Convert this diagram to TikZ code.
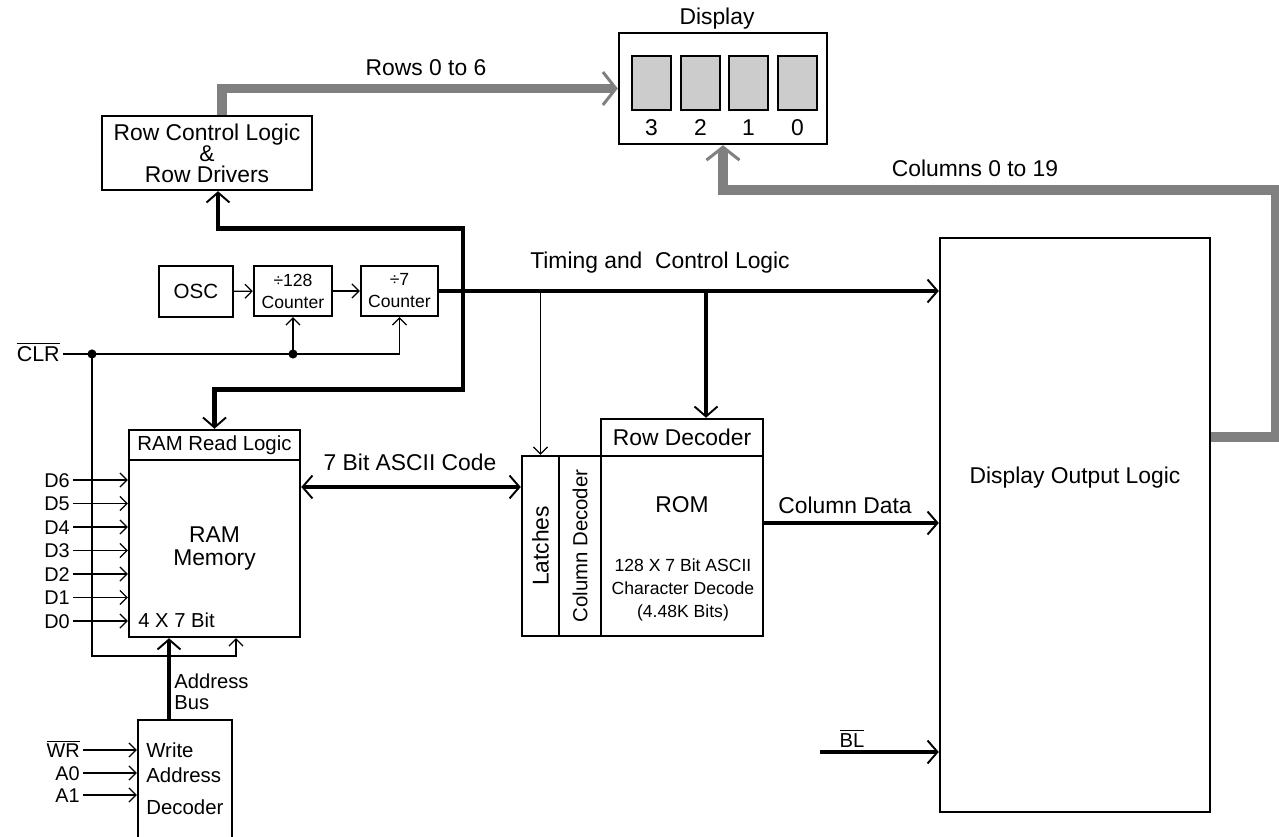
\documentclass[tikz,border=0pt]{standalone}
\usepackage{fontspec}
\setmainfont{Liberation Sans}
\usetikzlibrary{arrows.meta,positioning,calc}
\definecolor{busgray}{HTML}{808080}
\definecolor{segfill}{HTML}{CCCCCC}
\tikzset{
  blk/.style={draw=black, line width=1.4pt, inner sep=0pt, align=center, font=\fontsize{13}{15}\selectfont},
  seg/.style={draw=black, line width=0.6pt, fill=segfill, minimum width=0.78cm, minimum height=1.08cm},
  txt/.style={inner sep=0pt, align=center, font=\fontsize{13}{15}\selectfont},
  txtsm/.style={inner sep=0pt, align=left, font=\fontsize{11.5}{14}\selectfont},
  pinlbl/.style={inner ysep=0pt, inner xsep=1.7pt, text height=8pt, text depth=0pt, font=\fontsize{11.3}{13}\selectfont},
  sig/.style={line width=0.7pt, -{Straight Barb[length=1.4mm,width=2.8mm]}},
  bus/.style={line width=2.8pt, >={Straight Barb[length=2mm,width=4.6mm,line width=1.1pt 0 1]}},
  gbus/.style={line width=5.6pt, draw=busgray, -{Straight Barb[length=2.6mm,width=6.6mm,line width=1.7pt 0 1]}}
}
\begin{document}
\begin{tikzpicture}[x=0.02cm, y=-0.02cm]
  \useasboundingbox (0,0) rectangle (1279,837);
  % blocks
  \node[blk, minimum width=4.2cm, minimum height=1.48cm, font=\fontsize{13}{12}\selectfont] (rowctl) at (207,153) {Row Control Logic\\\&\\Row Drivers};
  \node[blk, minimum width=4.16cm, minimum height=2.22cm] (display) at (723,88.5) {};
  \node[txt] (displbl) at (717,19) {Display};
  \foreach \n/\x in {3/651.5,2/700.5,1/748.5,0/797.5}{
    \node[seg] (seg\n) at (\x,83) {};
    \node[txt] (dig\n) at (\x,128) {\n};
  }
  \node[blk, minimum width=1.48cm, minimum height=1.02cm, font=\fontsize{11.7}{14}\selectfont] (osc) at (196,291.5) {OSC};
  \node[blk, minimum width=1.56cm, minimum height=1cm, font=\fontsize{10}{12.5}\selectfont] (cnt128) at (293,291) {÷128\\Counter};
  \node[blk, minimum width=1.54cm, minimum height=1cm, font=\fontsize{10}{12.5}\selectfont] (cnt7) at (399.5,291) {÷7\\Counter};
  \node[blk, minimum width=3.42cm, minimum height=0.6cm, font=\fontsize{11.6}{14}\selectfont] (ramread) at (214.5,445) {RAM Read Logic};
  \node[blk, minimum width=3.42cm, minimum height=3.54cm, font=\fontsize{13}{13.6}\selectfont] (ram) at (214.5,548.5) {RAM\\Memory};
  \node[txtsm, anchor=west] (ramsize) at (138,620) {4 X 7 Bit};
  \node[blk, minimum width=1.88cm, minimum height=3cm] (wad) at (185,795) {};
  \node[txtsm, anchor=north west, font=\fontsize{11.6}{14.2}\selectfont] (wadtxt) at (146,742) {Write\\Address\\[4.5pt]Decoder};
  \node[blk, minimum width=0.74cm, minimum height=3.6cm] (latches) at (540.5,546) {};
  \node[blk, minimum width=0.84cm, minimum height=3.6cm] (coldec) at (580,546) {};
  \node[blk, minimum width=3.24cm, minimum height=0.74cm] (rowdec) at (682,437.5) {Row Decoder};
  \node[blk, minimum width=3.24cm, minimum height=3.6cm] (rom) at (682,546) {};
  \node[txt, rotate=90] (latchtxt) at (latches.center) {Latches};
  \node[txt, rotate=90, font=\fontsize{11.6}{14}\selectfont] (coldectxt) at (coldec.center) {Column Decoder};
  \node[txt] (romtxt) at (682,505) {ROM};
  \node[txt, font=\fontsize{10}{13}\selectfont] (romsize) at (683,590) {128 X 7 Bit ASCII\\Character Decode\\(4.48K Bits)};
  \node[blk, minimum width=5.4cm, minimum height=11.48cm] (dol) at (1075,525) {};
  \node[txt] (doltxt) at (1075,478) {Display Output Logic};
  % labels
  \node[txt] (rowslbl) at (426,68) {Rows 0 to 6};
  \node[txt] (colslbl) at (975,168) {Columns 0 to 19};
  \node[txt] (timlbl) at (660,263) {Timing and\ \ Control Logic};
  \node[txt] (asclbl) at (410,462) {7 Bit ASCII Code};
  \node[txt] (cdlbl) at (845,505) {Column Data};
  \node[txtsm, anchor=west, font=\fontsize{11.5}{12}\selectfont] (abuslbl) at (174,692) {Address\\Bus};
  \node[pinlbl, anchor=east, font=\fontsize{12.2}{14}\selectfont] (clr) at (63,354) {$\overline{\mbox{CLR}}$};
  \node[pinlbl, font=\fontsize{11.5}{14}\selectfont] (bl) at (852,740) {$\overline{\mbox{BL}}$};
  % display buses
  \draw[gbus] ($(rowctl.north)+(15,0)$) |- (display.west);
  \draw[gbus] ($(dol.east)+(0,-88)$) -- ++(65,0) -- ++(0,-247) -| (display.south);
  % timing and control
  \draw[bus,<->] ($(rowctl.south)+(11,0)$) -- ++(0,37) -- ++(245,0) -- ++(0,161) -| (ramread.north);
  \draw[bus,->] (cnt7.east) -- (cnt7.east -| dol.west);
  \coordinate (tapA) at (706,291);
  \draw[bus,->] (tapA) -- (tapA |- rowdec.north);
  \draw[sig] (latches.north |- cnt7.east) -- (latches.north);
  \draw[sig] (osc) -- (cnt128);
  \draw[sig] (cnt128) -- (cnt7);
  % clear
  \coordinate (clrtap) at (92,354);
  \draw[sig] (clr.east) -| (cnt7.south);
  \draw[sig] (cnt128.south |- clr.east) -- (cnt128.south);
  \fill (cnt128.south |- clr.east) circle (2.6pt);
  \fill (clrtap) circle (2.6pt);
  \draw[sig] (clrtap) -- ++(0,302) -| ($(ram.south)+(21.5,0)$);
  % data inputs
  \foreach \d/\y in {6/480,5/503.5,4/527,3/550.5,2/574,1/597.5,0/621}{
    \node[pinlbl, anchor=east] (d\d) at (73,\y) {D\d};
    \draw[sig] (d\d.east) -- (d\d.east -| ram.west);
  }
  \foreach \s/\n/\y in {{$\overline{\mbox{WR}}$}/wr/750,A0/azero/773,A1/aone/795}{
    \node[pinlbl, anchor=east] (\n) at (83,\y) {\s};
    \draw[sig] (\n.east) -- (\n.east -| wad.west);
  }
  % data buses
  \coordinate (abus) at ($(wad.north)+(-16,0)$);
  \draw[bus,->] (abus) -- (abus |- ram.south);
  \coordinate (ascl) at ($(ram.east)+(0,-61.5)$);
  \draw[bus,<->] (ascl) -- (ascl -| latches.west);
  \coordinate (cdat) at ($(rom.east)+(0,-23)$);
  \draw[bus,->] (cdat) -- (cdat -| dol.west);
  \coordinate (blin) at (820,752);
  \draw[bus,->] (blin) -- (blin -| dol.west);
\end{tikzpicture}
\end{document}
